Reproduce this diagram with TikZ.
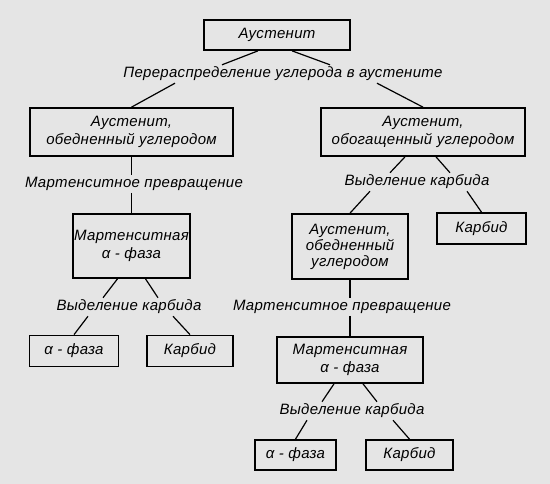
\documentclass[tikz,border=0pt]{standalone}
\usepackage{fontspec}
\setmainfont{Liberation Sans}
\newfontfamily\gost{Liberation Sans}[LetterSpace=2]
\usetikzlibrary{positioning, calc}

\begin{document}
\begin{tikzpicture}[
      x=1pt, y=-1pt,
      box/.style={draw, line width=1.7pt, align=center, inner sep=1pt,
                  font=\gost\itshape\fontsize{15}{18}\selectfont},
      lbl/.style={inner sep=2pt, font=\gost\itshape\fontsize{15}{18}\selectfont},
      link/.style={line width=1.2pt}
    ]
    \fill[black!10] (0,0) rectangle (550,484);
    \useasboundingbox (0,0) rectangle (550,484);
    % boxes
    \node[box, minimum width=146pt, minimum height=30pt] (A0) at (277,35) {Аустенит};
    \node[lbl] (redist) at (283,74) {Перераспределение углерода в аустените};
    \node[box, minimum width=203pt, minimum height=48pt] (L1) at (131.5,132)
          {Аустенит,\\обедненный углеродом};
    \node[box, minimum width=204pt, minimum height=48pt] (R1) at (423,132)
          {Аустенит,\\обогащенный углеродом};
    \node[lbl] (mart1) at (134,184) {Мартенситное превращение};
    \node[box, minimum width=117pt, minimum height=64pt] (L2) at (131.5,246)
          {Мартенситная\\α - фаза};
    \node[lbl] (carbL) at (129,307) {Выделение карбида};
    \node[box, minimum width=89pt, minimum height=31pt] (LA) at (74,351) {α - фаза};
    \node[box, minimum width=86pt, minimum height=31pt] (LK) at (190,351) {Карбид};
    \node[lbl] (carbR) at (417,182) {Выделение карбида};
    \node[box, minimum width=116pt, minimum height=65pt] (R2) at (350,246.5)
          {Аустенит,\\[-2pt]обедненный\\[-2pt]углеродом};
    \node[box, minimum width=89pt, minimum height=31pt] (RK) at (481.5,228.5) {Карбид};
    \node[lbl] (mart2) at (342,307) {Мартенситное превращение};
    \node[box, minimum width=146pt, minimum height=46pt] (R3) at (350,360)
          {Мартенситная\\α - фаза};
    \node[lbl] (carbR2) at (352,411) {Выделение карбида};
    \node[box, minimum width=81pt, minimum height=30pt] (RA) at (295.5,455) {α - фаза};
    \node[box, minimum width=87pt, minimum height=30pt] (RK2) at (409.5,455) {Карбид};
    % connectors
    \draw[link] ([xshift=-19pt]A0.south) -- ([xshift=-61pt]redist.north);
    \draw[link] ([xshift=15pt]A0.south) -- ([xshift=47pt]redist.north);
    \draw[link] ([xshift=-108pt]redist.south) -- (L1.north);
    \draw[link] ([xshift=94pt]redist.south) -- (R1.north);
    \draw[link] (L1.south) -- (L1.south |- mart1.north);
    \draw[link] (mart1.south -| L2.north) -- (L2.north);
    \draw[link] ([xshift=-14pt]L2.south) -- ([xshift=-26pt]carbL.north);
    \draw[link] ([xshift=14pt]L2.south) -- ([xshift=29pt]carbL.north);
    \draw[link] ([xshift=-41pt]carbL.south) -- (LA.north);
    \draw[link] ([xshift=44pt]carbL.south) -- (LK.north);
    \draw[link] ([xshift=-18pt]R1.south) -- ([xshift=-27pt]carbR.north);
    \draw[link] ([xshift=13pt]R1.south) -- ([xshift=33pt]carbR.north);
    \draw[link] ([xshift=-47pt]carbR.south) -- (R2.north);
    \draw[link] ([xshift=50pt]carbR.south) -- (RK.north);
    \draw[link] (R2.south) -- (R2.south |- mart2.north);
    \draw[link] (mart2.south -| R3.north) -- (R3.north);
    \draw[link] ([xshift=-16pt]R3.south) -- ([xshift=-30pt]carbR2.north);
    \draw[link] ([xshift=13pt]R3.south) -- ([xshift=25pt]carbR2.north);
    \draw[link] ([xshift=-45pt]carbR2.south) -- (RA.north);
    \draw[link] ([xshift=41pt]carbR2.south) -- (RK2.north);
\end{tikzpicture}
\end{document}
